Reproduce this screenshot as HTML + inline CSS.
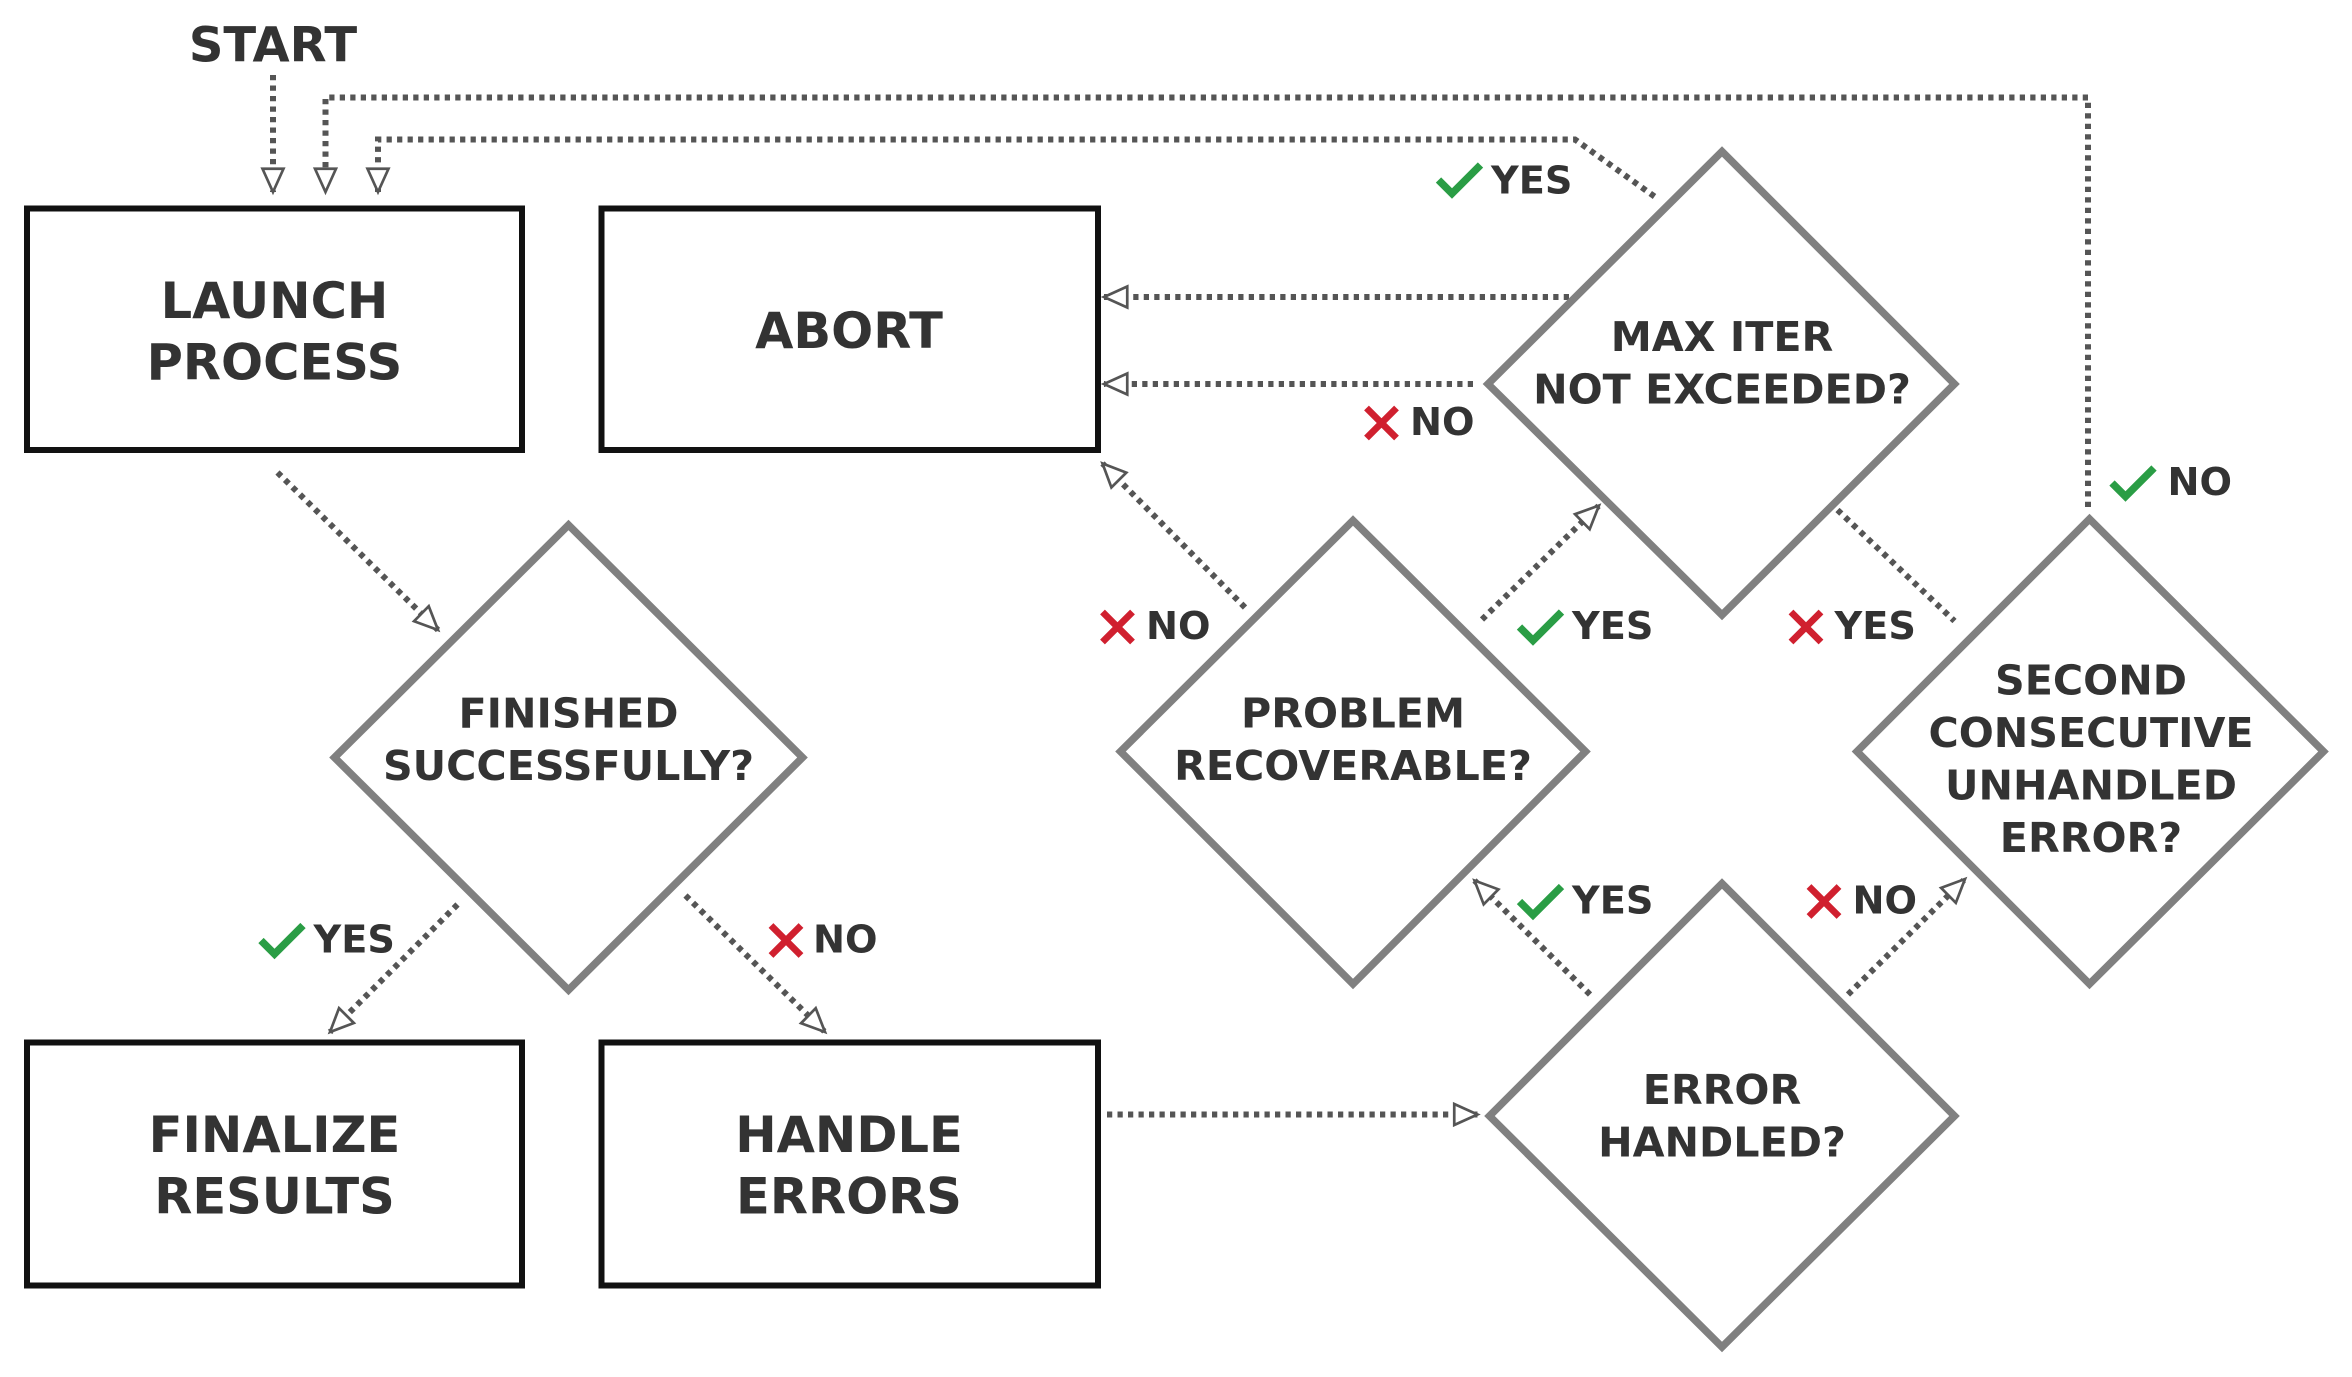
<!DOCTYPE html>
<html><head><meta charset="utf-8"><style>
html,body{margin:0;padding:0;background:#fff;}
svg{display:block;}
text{font-family:"DejaVu Sans","Liberation Sans",sans-serif;font-weight:bold;fill:#333;}
</style></head><body>
<svg width="2352" height="1377" viewBox="0 0 1568 918" xmlns="http://www.w3.org/2000/svg">
<defs>
<marker id="a" markerWidth="20" markerHeight="20" refX="17" refY="9" orient="auto" markerUnits="userSpaceOnUse">
<path d="M1.5,2 L17,9 L1.5,16 Z" fill="#fff" stroke="#555" stroke-width="1.8"/>
</marker>
<g id="ck"><path d="M0,12 L9,21 L28,2" fill="none" stroke="#2a9d45" stroke-width="5"/></g>
<g id="cx"><path d="M2,2 L22,22 M22,2 L2,22" fill="none" stroke="#d0202f" stroke-width="4.5"/></g>
</defs>
<g fill="none" stroke="#555" stroke-width="4" stroke-dasharray="3.5,3.5">
<path d="M182,50 V128" marker-end="url(#a)"/>
<path d="M1392,338 V65 H217 V128" marker-end="url(#a)"/>
<path d="M1103,131 L1050,93 H252 V128" marker-end="url(#a)"/>
<path d="M1046,198 H736" marker-end="url(#a)"/>
<path d="M982,256 H736" marker-end="url(#a)"/>
<path d="M185,315 L292,420" marker-end="url(#a)"/>
<path d="M305,603 L220,688" marker-end="url(#a)"/>
<path d="M457,597 L550,688" marker-end="url(#a)"/>
<path d="M738,743 H985" marker-end="url(#a)"/>
<path d="M830,405 L735,309" marker-end="url(#a)"/>
<path d="M988,413 L1066,337" marker-end="url(#a)"/>
<path d="M1225,340 L1303,414"/>
<path d="M1060,663 L983,587" marker-end="url(#a)"/>
<path d="M1232,663 L1310,586" marker-end="url(#a)"/>
</g>
<g fill="#fff" stroke="#111" stroke-width="4">
<rect x="18" y="139" width="330" height="161"/>
<rect x="401" y="139" width="331" height="161"/>
<rect x="18" y="695" width="330" height="162"/>
<rect x="401" y="695" width="331" height="162"/>
</g>
<g fill="#fff" stroke="#808080" stroke-width="5">
<path d="M379,350 L535,505 L379,660 L223,505 Z"/>
<path d="M1148,101 L1303,256 L1148,410 L992,256 Z"/>
<path d="M902,347 L1057,501 L902,656 L747,501 Z"/>
<path d="M1393,346 L1549,501 L1393,656 L1238,501 Z"/>
<path d="M1148,589 L1303,744 L1148,898 L993,744 Z"/>
</g>
<g text-anchor="middle">
<text x="182" y="41" font-size="32">START</text>
<text x="183" y="212" font-size="33">LAUNCH</text>
<text x="183" y="253" font-size="33">PROCESS</text>
<text x="566" y="232" font-size="33">ABORT</text>
<text x="183" y="768" font-size="33">FINALIZE</text>
<text x="183" y="809" font-size="33">RESULTS</text>
<text x="566" y="768" font-size="33">HANDLE</text>
<text x="566" y="809" font-size="33">ERRORS</text>
<g font-size="27.5">
<text x="379" y="485">FINISHED</text>
<text x="379" y="520">SUCCESSFULLY?</text>
<text x="1148" y="234">MAX ITER</text>
<text x="1148" y="269">NOT EXCEEDED?</text>
<text x="902" y="485">PROBLEM</text>
<text x="902" y="520">RECOVERABLE?</text>
<text x="1394" y="463">SECOND</text>
<text x="1394" y="498">CONSECUTIVE</text>
<text x="1394" y="533">UNHANDLED</text>
<text x="1394" y="568">ERROR?</text>
<text x="1148" y="736">ERROR</text>
<text x="1148" y="771">HANDLED?</text>
</g>
</g>
<g font-size="25.5">
<use href="#ck" x="959" y="108"/><text x="994" y="129">YES</text>
<use href="#cx" x="909" y="270"/><text x="940" y="290">NO</text>
<use href="#ck" x="1408" y="310"/><text x="1445" y="330">NO</text>
<use href="#cx" x="733" y="406"/><text x="764" y="426">NO</text>
<use href="#ck" x="1013" y="406"/><text x="1048" y="426">YES</text>
<use href="#cx" x="1192" y="406"/><text x="1223" y="426">YES</text>
<use href="#ck" x="174" y="615"/><text x="209" y="635">YES</text>
<use href="#cx" x="512" y="615"/><text x="542" y="635">NO</text>
<use href="#ck" x="1013" y="589"/><text x="1048" y="609">YES</text>
<use href="#cx" x="1204" y="589"/><text x="1235" y="609">NO</text>
</g>
</svg>
</body></html>
